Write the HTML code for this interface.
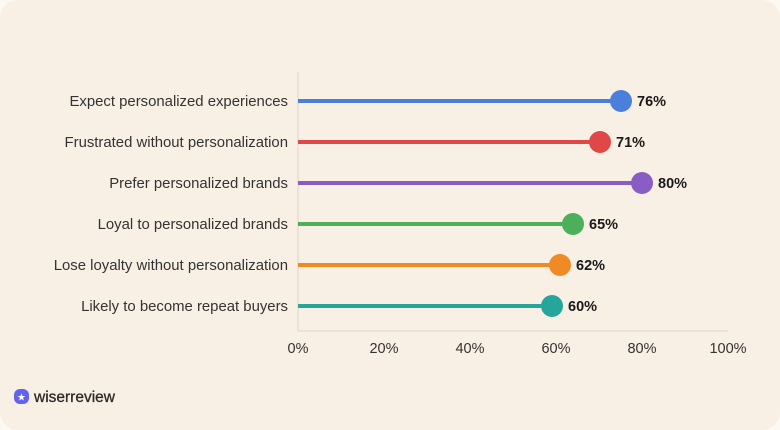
<!DOCTYPE html>
<html><head><meta charset="utf-8"><style>
body{margin:0;background:#fcf8f2;}
.card{position:absolute;left:0;top:0;width:780px;height:430px;border-radius:18px;background:#f8f0e4;}
svg{position:absolute;left:0;top:0;font-family:"Liberation Sans",sans-serif;}
</style></head><body>
<div class="card"></div>
<svg width="780" height="430">
<line x1="298" y1="72" x2="298" y2="331" stroke="#d9d3ca" stroke-width="1"/>
<line x1="298" y1="331" x2="728" y2="331" stroke="#d9d3ca" stroke-width="1"/>
<g font-size="14.9" fill="#333" text-anchor="end">
<text x="288" y="106">Expect personalized experiences</text>
<text x="288" y="147">Frustrated without personalization</text>
<text x="288" y="188">Prefer personalized brands</text>
<text x="288" y="229">Loyal to personalized brands</text>
<text x="288" y="270">Lose loyalty without personalization</text>
<text x="288" y="311">Likely to become repeat buyers</text>
</g>
<g stroke-width="4">
<line x1="298" y1="101" x2="621" y2="101" stroke="#4a7fdc"/><circle cx="621" cy="101" r="11" fill="#4a7fdc"/>
<line x1="298" y1="142" x2="600" y2="142" stroke="#e04848"/><circle cx="600" cy="142" r="11" fill="#e04848"/>
<line x1="298" y1="183" x2="642" y2="183" stroke="#8a5cc6"/><circle cx="642" cy="183" r="11" fill="#8a5cc6"/>
<line x1="298" y1="224" x2="573" y2="224" stroke="#4caf59"/><circle cx="573" cy="224" r="11" fill="#4caf59"/>
<line x1="298" y1="265" x2="560" y2="265" stroke="#f08a24"/><circle cx="560" cy="265" r="11" fill="#f08a24"/>
<line x1="298" y1="306" x2="552" y2="306" stroke="#26a69a"/><circle cx="552" cy="306" r="11" fill="#26a69a"/>
</g>
<g font-size="14.5" font-weight="bold" fill="#1a1a1a">
<text x="637" y="106">76%</text><text x="616" y="147">71%</text><text x="658" y="188">80%</text>
<text x="589" y="229">65%</text><text x="576" y="270">62%</text><text x="568" y="311">60%</text>
</g>
<g font-size="14.5" fill="#333" text-anchor="middle">
<text x="298" y="353">0%</text><text x="384" y="353">20%</text><text x="470" y="353">40%</text>
<text x="556" y="353">60%</text><text x="642" y="353">80%</text><text x="728" y="353">100%</text>
</g>
<rect x="14" y="389" width="15" height="15" rx="6" fill="#6262f0"/>
<text x="21.5" y="400.5" font-size="10" fill="#fff" text-anchor="middle">★</text>
<text x="34" y="402" font-size="15.5" fill="#2a2a2a" stroke="#2a2a2a" stroke-width="0.3">wiserreview</text>
</svg>
</body></html>
